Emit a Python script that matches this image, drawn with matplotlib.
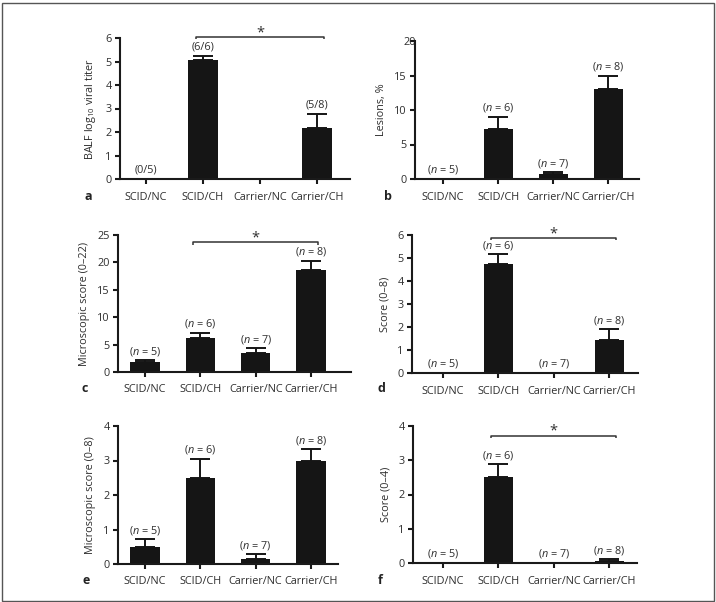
import matplotlib
matplotlib.use("Agg")
import matplotlib.pyplot as plt
from matplotlib.patches import Rectangle

plt.rcParams['font.family'] = ['Open Sans', 'DejaVu Sans']
plt.rcParams['mathtext.fontset'] = 'custom'
plt.rcParams['mathtext.rm'] = 'Open Sans'
plt.rcParams['mathtext.it'] = 'Open Sans:italic'

groups = ['SCID/NC', 'SCID/CH', 'Carrier/NC', 'Carrier/CH']

# panel values (mean, upper SEM)
titer_mean = [0, 5.05, 0, 2.15]
titer_err = [0, 0.18, 0, 0.62]
titer_notes = ['(0/5)', '(6/6)', '', '(5/8)']

lesion_mean = [0, 7.3, 0.7, 13.0]
lesion_err = [0, 1.7, 0.25, 1.95]

micro22_mean = [1.9, 6.15, 3.4, 18.6]
micro22_err = [0.2, 1.05, 0.9, 1.7]

score8_mean = [0, 4.73, 0, 1.43]
score8_err = [0, 0.43, 0, 0.48]

micro8_mean = [0.5, 2.5, 0.15, 3.0]
micro8_err = [0.22, 0.55, 0.13, 0.33]

score4_mean = [0, 2.5, 0, 0.06]
score4_err = [0, 0.38, 0, 0.05]

n_notes = [r'($n$ = 5)', r'($n$ = 6)', r'($n$ = 7)', r'($n$ = 8)']

TXT = '#2e2e2e'
BAR = '#151515'
FS = 7.8
W, H = 716, 602


def rect(left, right, top, bottom):
    return [left / W, (H - bottom) / H, (right - left) / W, (bottom - top) / H]


panels = [
    dict(letter='a', box=rect(120, 350, 38, 179), xlim=(-0.456, 3.58), mean=titer_mean, err=titer_err,
         notes=titer_notes, ylim=6, yticks=[0, 1, 2, 3, 4, 5, 6],
         ylabel=r'BALF log$_{\mathrm{10}}$ viral titer', sig=6.05, lpos=(88, 196)),
    dict(letter='b', box=rect(415, 639, 41, 179), xlim=(-0.51, 3.56), mean=lesion_mean, err=lesion_err,
         notes=n_notes, ylim=20, yticks=[0, 5, 10, 15, 20], ylabel='Lesions, %', sig=None, lpos=(388, 196)),
    dict(letter='c', box=rect(118, 351, 235, 372), xlim=(-0.49, 3.72), mean=micro22_mean, err=micro22_err,
         notes=n_notes, ylim=25, yticks=[0, 5, 10, 15, 20, 25], ylabel='Microscopic score (0–22)',
         sig=23.7, lpos=(85, 389)),
    dict(letter='d', box=rect(412, 638, 235, 373), xlim=(-0.56, 3.52), mean=score8_mean, err=score8_err,
         notes=n_notes, ylim=6, yticks=[0, 1, 2, 3, 4, 5, 6], ylabel='Score (0–8)', sig=5.87, lpos=(381, 389)),
    dict(letter='e', box=rect(118, 338, 426, 564), xlim=(-0.49, 3.49), mean=micro8_mean, err=micro8_err,
         notes=n_notes, ylim=4, yticks=[0, 1, 2, 3, 4], ylabel='Microscopic score (0–8)', sig=None,
         lpos=(86, 581)),
    dict(letter='f', box=rect(413, 637, 426, 563), xlim=(-0.54, 3.5), mean=score4_mean, err=score4_err,
         notes=n_notes, ylim=4, yticks=[0, 1, 2, 3, 4], ylabel='Score (0–4)', sig=3.72, lpos=(380, 581)),
]

fig = plt.figure(figsize=(7.16, 6.02), dpi=100)
fig.patches.append(Rectangle((1.5 / W, 1.5 / H), (W - 4) / W, (H - 4.5) / H, transform=fig.transFigure,
                             fill=False, edgecolor='#555555', linewidth=1.0))

x = range(len(groups))
for p in panels:
    ax = fig.add_axes(p['box'])
    ax.bar(x, p['mean'], width=0.53, color=BAR, linewidth=0, zorder=2)
    ax.errorbar(x, p['mean'], yerr=[[0] * 4, p['err']], fmt='none', ecolor=BAR,
                elinewidth=1.4, capsize=7, capthick=1.4, zorder=1)
    for xi, m, e, note in zip(x, p['mean'], p['err'], p['notes']):
        if note:
            ax.annotate(note, (xi, m + e), xytext=(0, 6.5), textcoords='offset points',
                        ha='center', va='center', fontsize=FS, color=TXT)
    if p['sig'] is not None:
        y = p['sig']
        x0, x1 = 0.87, 3.13
        drop = p['ylim'] * 0.018
        ax.plot([x0, x0, x1, x1], [y - drop, y, y, y - drop], color='#333333', lw=1.1,
                clip_on=False, solid_capstyle='butt')
        ax.annotate('*', ((x0 + x1) / 2, y), xytext=(0, 0.5), textcoords='offset points',
                    ha='center', va='baseline', fontsize=10.5, color=TXT, annotation_clip=False)
    ax.set_xlim(*p['xlim'])
    ax.set_ylim(0, p['ylim'])
    ax.set_yticks(p['yticks'])
    ax.set_xticks(list(x))
    ax.set_xticklabels(groups)
    ax.set_ylabel(p['ylabel'], fontsize=FS, color=TXT, labelpad=5)
    for s in ['top', 'right']:
        ax.spines[s].set_visible(False)
    for s in ['left', 'bottom']:
        ax.spines[s].set_linewidth(1.5)
        ax.spines[s].set_color('#1a1a1a')
    ax.tick_params(axis='both', length=3.5, width=1.5, color='#1a1a1a', labelsize=FS, labelcolor=TXT, pad=2.5)
    ax.tick_params(axis='x', pad=5.5)
    ax.set_facecolor('none')
    if p['letter'] == 'b':
        # the top tick label sits on the axis line in the source
        ax.yaxis.get_major_ticks()[-1].set_pad(-4)
    fig.text(p['lpos'][0] / W, 1 - p['lpos'][1] / H, p['letter'], fontsize=9, fontweight='bold',
             color='#222222', ha='center', va='center')

fig.savefig('out.png', dpi=100)
